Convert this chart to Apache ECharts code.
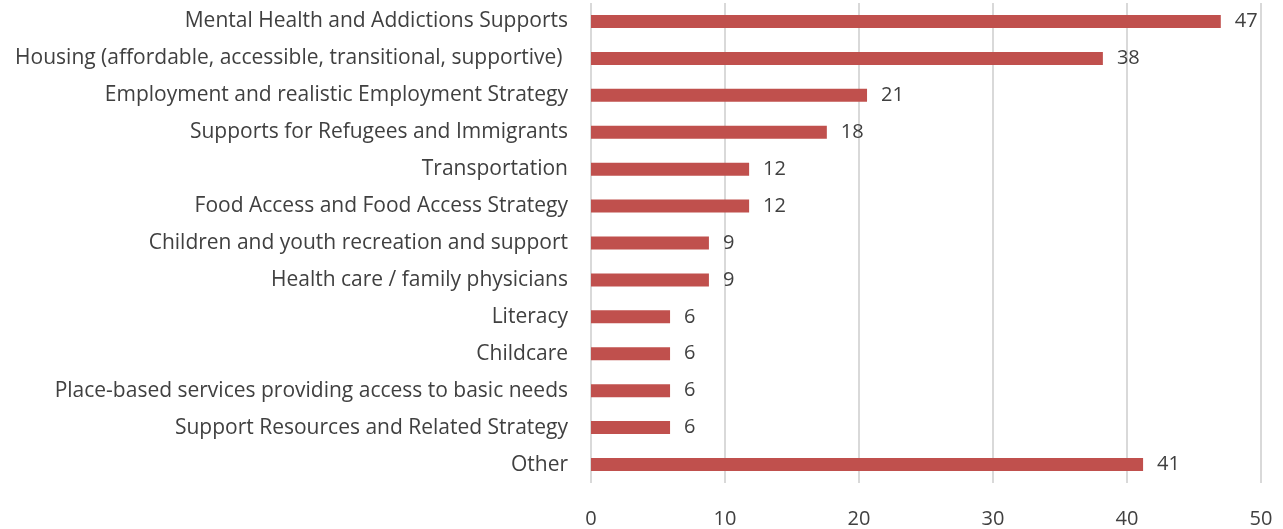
<!DOCTYPE html>
<html>
<head>
<meta charset="utf-8">
<script src="https://cdn.jsdelivr.net/npm/echarts@6/dist/echarts.min.js"></script>
<style>
    html, body { margin: 0; padding: 0; background: #fff; }
    #chart { width: 1283px; height: 529px; }
</style>
</head>
<body>
<div id="chart"></div>
<script>
    // categories listed top to bottom as in the picture
    const categories = [
        'Mental Health and Addictions Supports',
        'Housing (affordable, accessible, transitional, supportive) ',
        'Employment and realistic Employment Strategy',
        'Supports for Refugees and Immigrants',
        'Transportation',
        'Food Access and Food Access Strategy',
        'Children and youth recreation and support',
        'Health care / family physicians',
        'Literacy',
        'Childcare',
        'Place-based services providing access to basic needs',
        'Support Resources and Related Strategy',
        'Other'
    ];
    // bar lengths as measured on the picture; labels show them rounded
    const counts = [47.0, 38.2, 20.6, 17.6, 11.8, 11.8, 8.8, 8.8, 5.9, 5.9, 5.9, 5.9, 41.2];
    const axisMin = 0, axisMax = 50, axisStep = 10;

    const textColor = '#404040';
    const fontFamily = '"Open Sans", "DejaVu Sans", sans-serif';

    const chart = echarts.init(document.getElementById('chart'));
    chart.setOption({
        animation: false,
        grid: { left: 591, right: 22, top: 3, bottom: 46, containLabel: false },
        xAxis: {
            type: 'value',
            min: axisMin,
            max: axisMax,
            interval: axisStep,
            axisLine: { show: false },
            axisTick: { show: false },
            axisLabel: { color: textColor, fontSize: 20, fontFamily: fontFamily, margin: 26 },
            splitLine: { show: true, lineStyle: { color: '#d9d9d9', width: 2 } }
        },
        yAxis: {
            type: 'category',
            data: categories,
            inverse: true,
            axisLine: { show: false },
            axisTick: { show: false },
            axisLabel: { color: textColor, fontSize: 21, fontFamily: fontFamily, margin: 23, padding: [3, 0, 0, 0] }
        },
        series: [{
            type: 'bar',
            data: counts,
            barWidth: 13,
            itemStyle: { color: '#c0504d' },
            label: {
                show: true,
                position: 'right',
                distance: 14,
                color: textColor,
                fontSize: 20,
                fontFamily: fontFamily,
                padding: [3, 0, 0, 0],
                formatter: (p) => Math.round(p.value)
            }
        }]
    });
</script>
</body>
</html>
